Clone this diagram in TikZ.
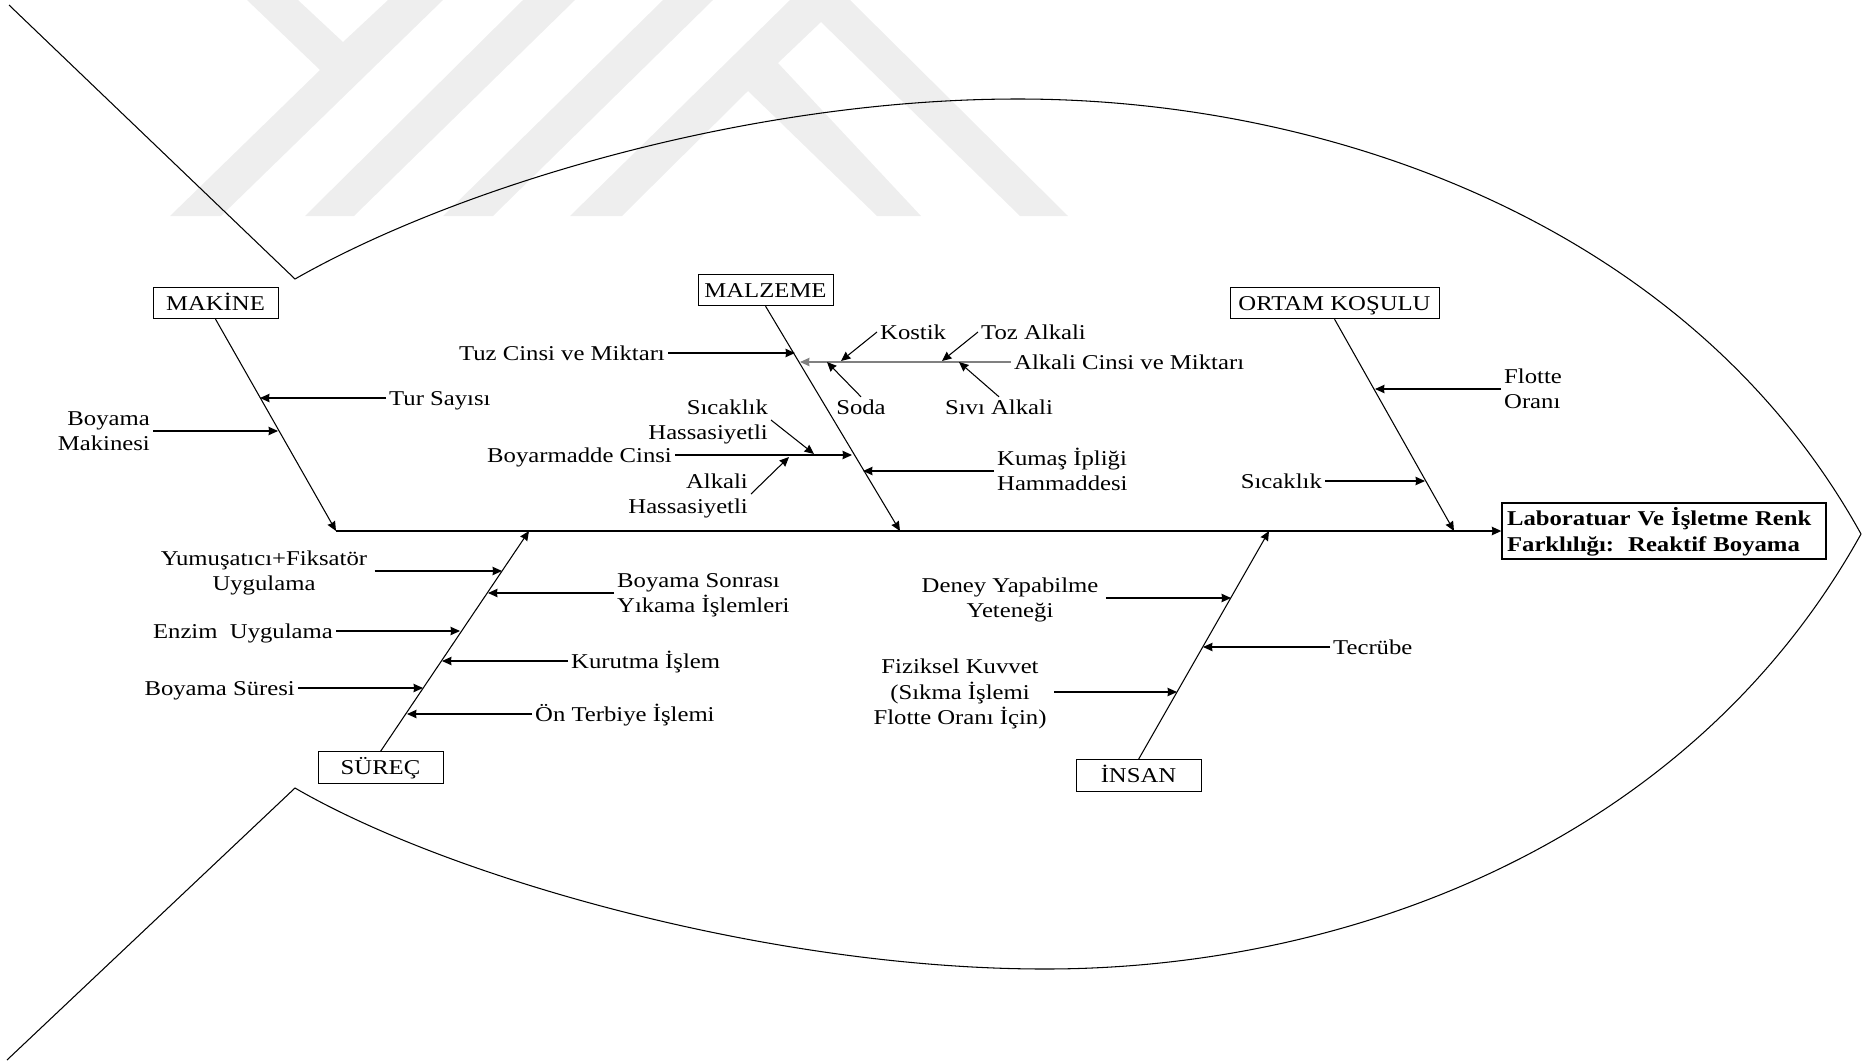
\documentclass[tikz,border=0pt]{standalone}
\usepackage{fontspec}
\setmainfont{Liberation Serif}[FakeStretch=1.172]
\usepackage{pgf, tikz}
\usetikzlibrary{arrows.meta}
\definecolor{wmark}{HTML}{EEEEEE}
\definecolor{alkgray}{HTML}{808080}

\begin{document}
\begin{tikzpicture}[
  x = 0.02cm,
  y = -0.02cm,
  > = {Stealth[length=5.4pt, width=4.8pt, inset=0.4pt]},
  semithick
  ]

  \tikzstyle{cat}=[
  draw = black,
  thin,
  fill = white,
  inner sep = 0pt,
  minimum width = 2.5cm,
  minimum height = 0.63cm,
  text height = 8pt,
  text depth = 0pt,
  font = \fontsize{12}{14.4}\selectfont
  ]
  \tikzstyle{lbl}=[
  inner sep = 1.5pt,
  text height = 8pt,
  text depth = 0pt,
  font = \fontsize{12}{14.4}\selectfont
  ]
  \tikzstyle{two}=[
  lbl,
  align = center,
  text height = 22.4pt
  ]
  \tikzstyle{three}=[
  lbl,
  align = center,
  text height = 36.8pt
  ]
  \tikzstyle{wm}=[
  fill = wmark,
  draw = none
  ]

  \useasboundingbox (0,0) rectangle (1863,1062);

  \fill[wm] (247,0) -- (320,70) -- (170,216) -- (221,216) -- (443,0) -- (388,0) -- (343,42) -- (298,0) -- cycle;
  \fill[wm] (523,0) -- (575,0) -- (354,216) -- (305,216) -- cycle;
  \fill[wm] (663,0) -- (713,0) -- (493,216) -- (443,216) -- cycle;
  \fill[wm] (790,0) -- (850,0) -- (1068,216) -- (1020,216) -- (821,22) -- (778,63) -- (921,216) -- (877,216) -- (748,91) -- (622,216) -- (570,216) -- cycle;

  \draw (9,5) -- (295,279) .. controls (460,185) and (750,99) .. (1018,99)
    .. controls (1330,99) and (1690,225) .. (1861,534)
    .. controls (1690,842) and (1350,969) .. (1045,969)
    .. controls (770,969) and (450,878) .. (295,788) -- (7,1060);

  \node[cat] (makine) at (215.5,303) {MAKİNE};
  \node[cat, minimum width=2.7cm] (malzeme) at (765.5,290) {MALZEME};
  \node[cat, minimum width=4.18cm] (ortam) at (1334.5,303) {ORTAM KOŞULU};
  \node[cat] (surec) at (380.5,767.5) {SÜREÇ};
  \node[cat] (insan) at (1138.5,775.5) {İNSAN};
  \node[cat, thick, minimum width=6.48cm, minimum height=1.12cm, text width=6.28cm, align=left, text depth=14.8pt, font=\fontsize{12}{14.8}\selectfont\bfseries] (head) at (1664,531) {Laboratuar Ve İşletme Renk\\Farklılığı:\ \ Reaktif Boyama};

  \coordinate (sp) at (336,531);
  \coordinate (mk) at (336,531);
  \coordinate (mz) at (900,531);
  \coordinate (ok) at (1454,531);
  \coordinate (sr) at (529,531);
  \coordinate (ins) at (1269,531);

  \path[->, line width=0.9pt] (sp) edge (head.west);
  \path[->] (makine.south) edge (mk);
  \path[->] (malzeme.south) edge (mz);
  \path[->] (ortam.south) edge (ok);
  \path[->] (surec.north) edge (sr);
  \path[->] (insan.north) edge (ins);

  \node[lbl, anchor=west] (tur) at (386,398) {Tur Sayısı};
  \node[two, anchor=east, align=right] (makn) at (153,431) {Boyama\\Makinesi};
  \coordinate (mk1) at (260,398);
  \coordinate (mk2) at (278,431);
  \path[->] (tur) edge (mk1);
  \path[->] (makn) edge (mk2);

  \node[lbl, anchor=east] (tuz) at (668,353) {Tuz Cinsi ve Miktarı};
  \node[lbl, anchor=west] (alk) at (1011,362) {Alkali Cinsi ve Miktarı};
  \node[lbl, anchor=west] (kostik) at (877,332) {Kostik};
  \node[lbl, anchor=west] (toz) at (978,332) {Toz Alkali};
  \node[lbl] (soda) at (861,407) {Soda};
  \node[lbl] (sivi) at (999,407) {Sıvı Alkali};
  \node[two, anchor=east, align=right] (sic) at (771,420) {Sıcaklık\\Hassasiyetli};
  \node[lbl, anchor=east] (boyar) at (675,455) {Boyarmadde Cinsi};
  \node[two, anchor=east, align=right] (alh) at (751,494) {Alkali\\Hassasiyetli};
  \node[two, anchor=west, align=left] (kumas) at (994,471) {Kumaş İpliği\\Hammaddesi};
  \coordinate (mz1) at (795,353);
  \coordinate (mz2) at (800,362);
  \coordinate (mz3) at (852,455);
  \coordinate (mz4) at (863,471);
  \coordinate (al1) at (841,361);
  \coordinate (al2) at (942,361);
  \coordinate (al3) at (827,362);
  \coordinate (al4) at (959,362);
  \coordinate (by1) at (814,454);
  \coordinate (by2) at (789,457);
  \path[->] (tuz) edge (mz1);
  \path[->, alkgray] (alk) edge (mz2);
  \path[->] (boyar) edge (mz3);
  \path[->] (kumas) edge (mz4);
  \path[->] (kostik.west) edge (al1);
  \path[->] (toz.west) edge (al2);
  \path[->] (soda.north) edge (al3);
  \path[->] (sivi.north) edge (al4);
  \path[->] (sic.east) edge (by1);
  \path[->] (alh.east) edge (by2);

  \node[two, anchor=west, align=left] (flotte) at (1501,389) {Flotte\\Oranı};
  \node[lbl, anchor=east] (sick) at (1325,481) {Sıcaklık};
  \coordinate (ok1) at (1375,389);
  \coordinate (ok2) at (1425,481);
  \path[->] (flotte) edge (ok1);
  \path[->] (sick) edge (ok2);

  \node[two, inner xsep=4pt] (yum) at (264,571) {Yumuşatıcı+Fiksatör\\Uygulama};
  \node[two, anchor=west, align=left] (sonra) at (614,593) {Boyama Sonrası\\Yıkama İşlemleri};
  \node[lbl, anchor=east] (enzim) at (336,631) {Enzim\ \ Uygulama};
  \node[lbl, anchor=west] (kurut) at (568,661) {Kurutma İşlem};
  \node[lbl, anchor=east] (sure) at (298,688) {Boyama Süresi};
  \node[lbl, anchor=west] (terb) at (532,714) {Ön Terbiye İşlemi};
  \coordinate (sr1) at (502,571);
  \coordinate (sr2) at (488,593);
  \coordinate (sr3) at (460,631);
  \coordinate (sr4) at (442,661);
  \coordinate (sr5) at (423,688);
  \coordinate (sr6) at (407,714);
  \path[->] (yum) edge (sr1);
  \path[->] (sonra) edge (sr2);
  \path[->] (enzim) edge (sr3);
  \path[->] (kurut) edge (sr4);
  \path[->] (sure) edge (sr5);
  \path[->] (terb) edge (sr6);

  \node[two, inner xsep=4pt] (deney) at (1010,598) {Deney Yapabilme\\Yeteneği};
  \node[lbl, anchor=west] (tecr) at (1330,647) {Tecrübe};
  \node[three, inner xsep=4pt] (fiz) at (960,692) {Fiziksel Kuvvet\\(Sıkma İşlemi\\Flotte Oranı İçin)};
  \coordinate (in1) at (1231,598);
  \coordinate (in2) at (1203,647);
  \coordinate (in3) at (1177,692);
  \path[->] (deney) edge (in1);
  \path[->] (tecr) edge (in2);
  \path[->] (fiz) edge (in3);

\end{tikzpicture}
\end{document}
